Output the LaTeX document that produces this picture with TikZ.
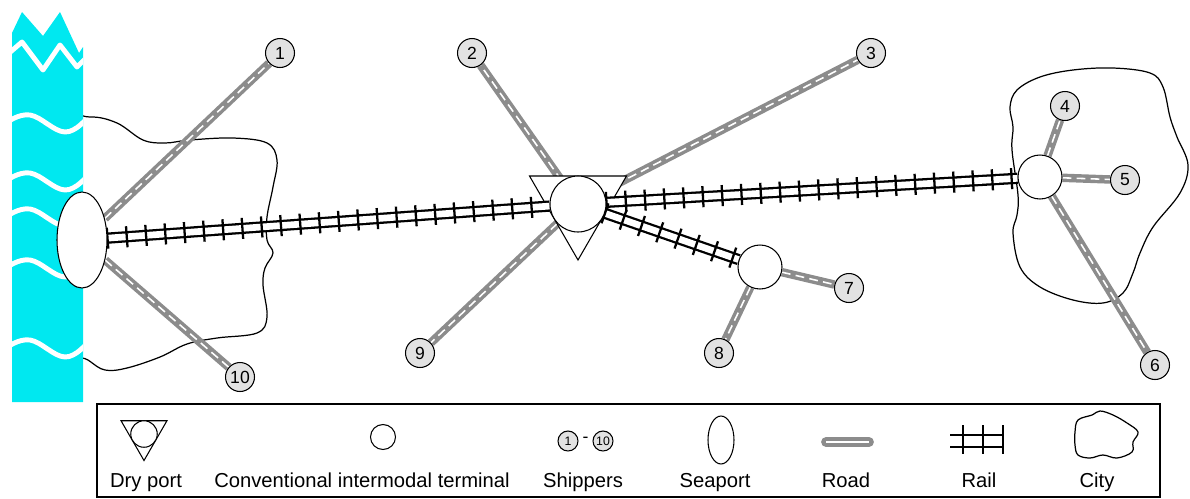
\documentclass[tikz,border=0pt]{standalone}
\usepackage{fontspec}
\setmainfont{Liberation Sans}
\usetikzlibrary{shapes.geometric,decorations.pathreplacing}
\pgfdeclarelayer{back}
\pgfdeclarelayer{roadlayer}
\pgfdeclarelayer{trilayer}
\pgfdeclarelayer{raillayer}
\pgfsetlayers{back,roadlayer,trilayer,raillayer,main}

\definecolor{sea}{RGB}{0,232,240}
\definecolor{roadgray}{RGB}{140,140,140}
\definecolor{shipfill}{RGB}{226,226,226}

\tikzset{
  road/.style={draw=roadgray, line width=4.8pt,
    postaction={draw=white, line width=0.9pt, dash pattern=on 5pt off 3pt}},
  rail/.style={draw=black, line width=6.4pt,
    postaction={draw=white, line width=3.8pt},
    postaction={decorate, draw=black, line width=1.3pt,
      decoration={ticks, segment length=11pt, amplitude=6pt}}},
  shipper/.style={circle, draw, line width=0.6pt, fill=shipfill,
    minimum size=0.58cm, inner sep=0pt, font=\fontsize{10}{12}\selectfont},
  terminal/.style={circle, draw, line width=0.6pt, fill=white,
    minimum size=0.88cm, inner sep=0pt},
  dryring/.style={circle, draw, line width=0.6pt, fill=white,
    minimum size=1.12cm, inner sep=0pt},
  drytri/.style={regular polygon, regular polygon sides=3,
    shape border rotate=180, draw, line width=0.6pt, fill=white,
    minimum size=2.24cm, inner sep=0pt},
  seaport/.style={ellipse, draw, line width=0.6pt, fill=white,
    minimum width=1.0cm, minimum height=1.92cm, inner sep=0pt},
  cityline/.style={draw, line width=0.7pt},
  seawave/.style={draw=white, line width=2.8pt, line join=round},
  legendtext/.style={font=\fontsize{11.5}{13}\selectfont, anchor=base, inner sep=0pt},
}

\begin{document}
\begin{tikzpicture}[x=0.02cm, y=-0.02cm]
\useasboundingbox (0,0) rectangle (1190,498);

% terminals and ports
\node[seaport] (sp) at (82,240) {};
\node[dryring] (dp) at (578,204) {};
\node[terminal] (ta) at (760,267) {};
\node[terminal] (tb) at (1040,177) {};
\begin{pgfonlayer}{trilayer}
  \node[drytri] (dptri) at (578,204) {};
\end{pgfonlayer}

% shippers
\node[shipper] (s1) at (280,53) {1};
\node[shipper] (s2) at (472,53) {2};
\node[shipper] (s3) at (871,53) {3};
\node[shipper] (s4) at (1065,106) {4};
\node[shipper] (s5) at (1125,180) {5};
\node[shipper] (s6) at (1155,365) {6};
\node[shipper] (s7) at (849,288) {7};
\node[shipper] (s8) at (719,353) {8};
\node[shipper] (s9) at (420,353) {9};
\node[shipper] (s10) at (240,377) {10};

% sea and cities
\begin{pgfonlayer}{back}
  \draw[cityline] plot[smooth cycle, tension=0.6] coordinates {
    (60,125) (90,117) (117,123) (143,140) (165,143) (190,140) (233,138)
    (267,143) (277,160) (273,187) (267,217) (267,240) (273,253) (265,268)
    (263,285) (267,317) (257,333) (217,338) (187,344) (160,357) (127,368)
    (105,370) (88,360) (60,340) (50,230)};
  \draw[cityline] plot[smooth cycle, tension=0.6] coordinates {
    (1017,90) (1040,77) (1073,70) (1113,68) (1150,73) (1163,87) (1170,117)
    (1177,137) (1188,165) (1180,193) (1153,227) (1140,253) (1133,273)
    (1123,293) (1103,303) (1073,300) (1040,287) (1020,267) (1013,233)
    (1017,215) (1018,195) (1012,150) (1013,127) (1010,107)};
  \fill[sea] (12,33) -- (22,12) -- (43,36) -- (60,12) -- (79,53) -- (83,47)
    -- (83,402) -- (12,402) -- cycle;
  \begin{scope}
    \clip (12,33) -- (22,12) -- (43,36) -- (60,12) -- (79,53) -- (83,47)
      -- (83,402) -- (12,402) -- cycle;
    \draw[seawave] (8,54) -- (22,42) -- (43,70) -- (60,45) -- (77,67) -- (86,58);
    \foreach \w in {120,178,214,265,345} {
      \draw[seawave] plot[smooth, tension=0.7] coordinates
        {(6,\w+3) (30,\w-5) (65,\w+12) (88,\w-3)};
    }
  \end{scope}
\end{pgfonlayer}

% roads
\begin{pgfonlayer}{roadlayer}
  \draw[road] (sp) -- (s1);
  \draw[road] (sp) -- (s10);
  \draw[road] (dp) -- (s2);
  \draw[road] (dp) -- (s3);
  \draw[road] (dp) -- (s9);
  \draw[road] (ta) -- (s7);
  \draw[road] (ta) -- (s8);
  \draw[road] (tb) -- (s4);
  \draw[road] (tb) -- (s5);
  \draw[road] (tb) -- (s6);
\end{pgfonlayer}

% rail lines
\begin{pgfonlayer}{raillayer}
  \draw[rail] (sp) -- (dp);
  \draw[rail] (dp) -- (tb);
  \draw[rail] (dp) -- (ta);
\end{pgfonlayer}

% legend
\draw[line width=0.8pt] (97,404) rectangle (1160,497);

\node[drytri, minimum size=1.06cm] (lgtri) at (144,434) {};
\node[dryring, minimum size=0.53cm] (lgdp) at (144,434) {};
\node[terminal, minimum size=0.5cm] (lgterm) at (383,437) {};
\node[shipper, minimum size=0.4cm, font=\fontsize{7}{8}\selectfont] (lgsa) at (568,441) {1};
\node[font=\fontsize{10}{10}\selectfont, inner sep=0pt] (lgdash) at (585.5,440) {-};
\node[shipper, minimum size=0.4cm, font=\fontsize{7}{8}\selectfont] (lgsb) at (603,441) {10};
\node[seaport, minimum width=0.52cm, minimum height=0.96cm] (lgsp) at (721,440) {};
\coordinate (lgra) at (826,442);
\coordinate (lgrb) at (869,442);
\draw[draw=roadgray, line width=5.6pt, line cap=round] (lgra) -- (lgrb);
\draw[draw=white, line width=0.8pt] (lgra) -- (lgrb);
\draw[line width=1.1pt] (950,435) -- (1004,435) (950,447) -- (1004,447);
\foreach \t in {963,983,1003} { \draw[line width=1.1pt] (\t,425) -- (\t,454); }
\draw[cityline] plot[smooth cycle, tension=0.6] coordinates {
  (1075,432) (1078,420) (1092,415) (1100,411) (1113,415) (1127,423)
  (1138,432) (1133,442) (1132,452) (1117,458) (1103,455) (1090,458)
  (1078,455) (1075,445)};

\node[legendtext] (lt1) at (146,487) {Dry port};
\node[legendtext] (lt2) at (362,487) {Conventional intermodal terminal};
\node[legendtext] (lt3) at (583,487) {Shippers};
\node[legendtext] (lt4) at (715,487) {Seaport};
\node[legendtext] (lt5) at (846,487) {Road};
\node[legendtext] (lt6) at (979,487) {Rail};
\node[legendtext] (lt7) at (1097,487) {City};
\end{tikzpicture}
\end{document}
